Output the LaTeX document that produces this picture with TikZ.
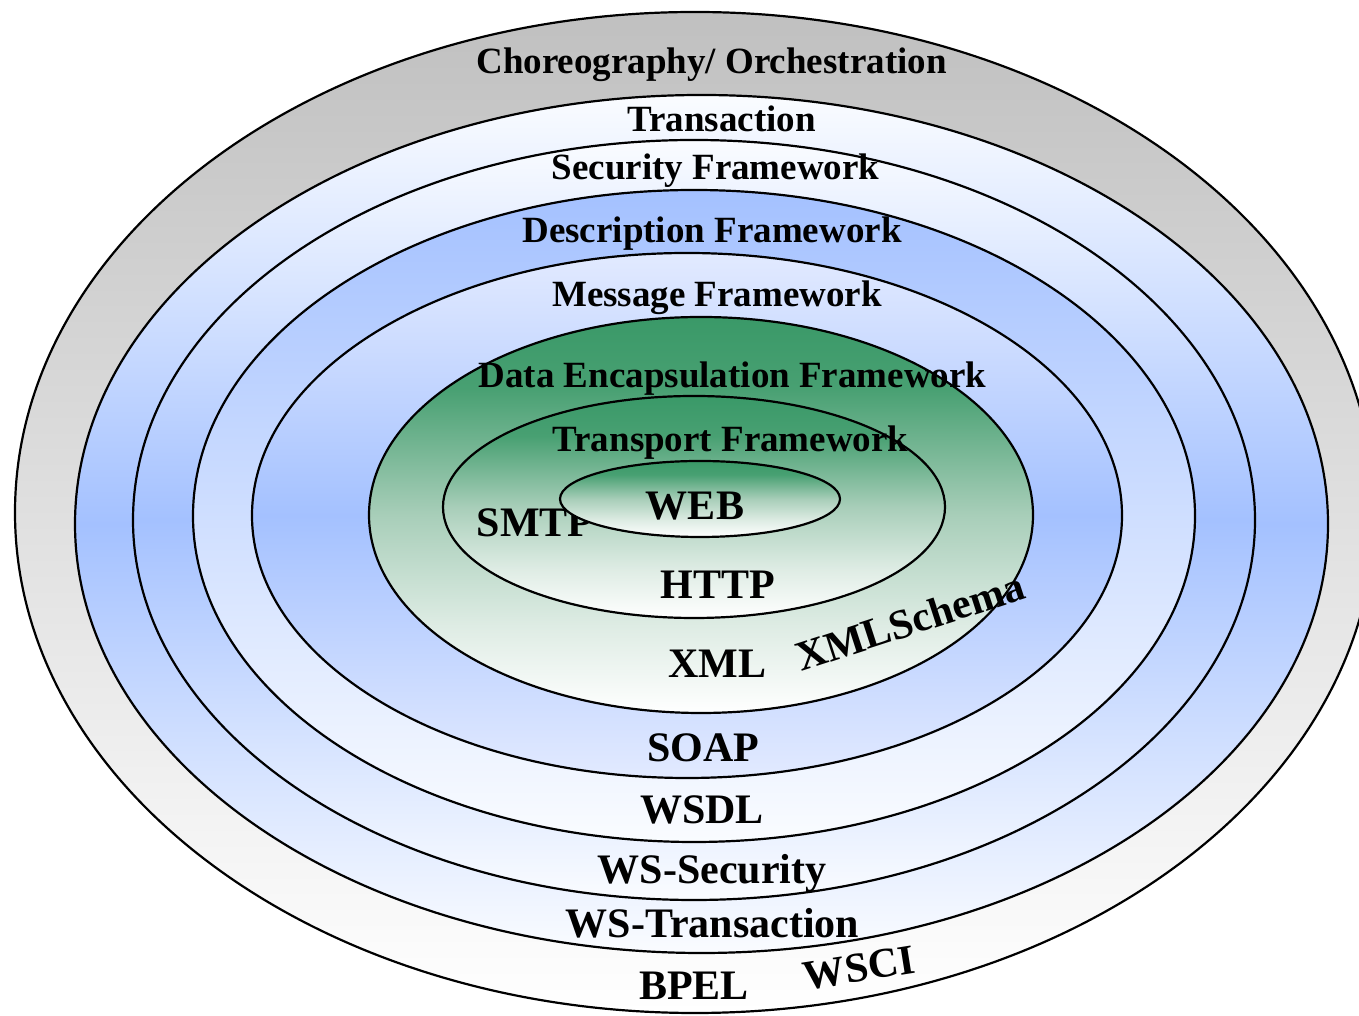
\documentclass[tikz,border=0pt]{standalone}
\usepackage{fontspec}
\setmainfont{Liberation Serif}

% ring colours
\definecolor{ringgray}{RGB}{192,192,192}
\definecolor{ringblue}{RGB}{164,193,255}
\definecolor{ringpale}{RGB}{226,234,255}
\definecolor{ringedge}{RGB}{250,252,255}
\definecolor{leafgreen}{RGB}{58,153,104}
\definecolor{leafdeep}{RGB}{72,160,114}
\definecolor{leafmid}{RGB}{168,206,185}
\definecolor{leafpale}{RGB}{222,236,228}

% green fade used by the three inner rings: deep at the top, white at the bottom
\pgfdeclareverticalshading{greenfade}{100bp}{%
  color(0bp)=(white); color(25bp)=(white); color(36bp)=(leafpale);
  color(50bp)=(leafmid); color(66bp)=(leafdeep); color(75bp)=(leafgreen);
  color(100bp)=(leafgreen)}

\begin{document}
\begin{tikzpicture}[x=1pt,y=1pt,
  ring/.style={draw=black,line width=2.2pt},
  bluecore/.style={top color=#1, bottom color=#1, middle color=ringblue},
  framelabel/.style={font=\bfseries\fontsize{37}{40}\selectfont,anchor=base,inner sep=0pt},
  techlabel/.style={font=\bfseries\fontsize{42}{46}\selectfont,anchor=base,inner sep=0pt},
  slantlabel/.style={font=\bfseries\fontsize{42}{46}\selectfont,anchor=center,inner sep=0pt}]

\fill[white] (0,0) rectangle (1359,1016);
\useasboundingbox (0,0) rectangle (1359,1016);
\clip (0,0) rectangle (1359,1016);

% nested rings, outermost first
\shadedraw[ring, top color=ringgray, bottom color=white]
  (695,503.5) ellipse [x radius=680, y radius=500.5];
\shadedraw[ring, bluecore=ringedge]
  (701.5,492) ellipse [x radius=626.5, y radius=429];
\shadedraw[ring, bluecore=ringedge]
  (694,496) ellipse [x radius=561, y radius=380];
\shadedraw[ring, top color=ringblue, bottom color=ringedge]
  (694,500) ellipse [x radius=501, y radius=326];
\shadedraw[ring, bluecore=ringpale]
  (687,500.5) ellipse [x radius=435, y radius=262.5];
\shadedraw[ring, shading=greenfade]
  (701,501) ellipse [x radius=332, y radius=198];
\shadedraw[ring, shading=greenfade]
  (694,509) ellipse [x radius=251, y radius=111];

% SMTP sits partly under the core ring
\node[techlabel] (smtp) at (535,479) {SMTP};

% core ring
\shadedraw[ring, shading=greenfade]
  (700,517) ellipse [x radius=140, y radius=38];

% framework names
\node[framelabel] (choreo)    at (711.5,942) {Choreography/ Orchestration};
\node[framelabel] (trans)     at (721.5,884) {Transaction};
\node[framelabel] (secfw)     at (715.5,836) {Security Framework};
\node[framelabel] (descfw)    at (712,773)   {Description Framework};
\node[framelabel] (msgfw)     at (717,709)   {Message Framework};
\node[framelabel] (datafw)    at (732.5,628) {Data Encapsulation Framework};
\node[framelabel] (transpfw)  at (730.5,564) {Transport Framework};

% technologies
\node[techlabel] (web)     at (695,496)   {WEB};
\node[techlabel] (http)    at (717.5,417) {HTTP};
\node[techlabel] (xml)     at (717.5,338) {XML};
\node[techlabel] (soap)    at (703.5,254) {SOAP};
\node[techlabel] (wsdl)    at (702,192)   {WSDL};
\node[techlabel] (wssec)   at (712,132)   {WS-Security};
\node[techlabel] (wstrans) at (712.5,78)  {WS-Transaction};
\node[techlabel] (bpel)    at (694,16)    {BPEL};
\node[slantlabel,rotate=18] (xmlschema) at (910,395) {XMLSchema};
\node[slantlabel,rotate=9]  (wsci)      at (859,48)  {WSCI};
\end{tikzpicture}
\end{document}
